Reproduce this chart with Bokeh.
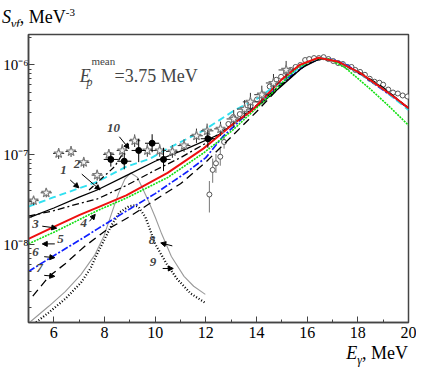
import numpy as np
from bokeh.plotting import figure
from bokeh.models import FixedTicker, Label, Arrow, NormalHead, Div
from bokeh.layouts import column
from bokeh.embed import file_html
from bokeh.resources import INLINE

# ---------------- data (log10 of S, MeV^-3) ----------------
c1_E = [5, 6, 7, 7.71, 8.86, 9.81, 10.49, 11.9, 13.15, 14.06, 14.8, 15.5, 16, 16.5, 17.2, 18, 19, 20]
c1_L = [-7.574, -7.47, -7.37, -7.30, -7.13, -7.04, -6.93, -6.73, -6.50, -6.37, -6.22, -6.07, -5.97, -5.92, -5.96, -6.08, -6.27, -6.50]
c2_E = [5, 6, 7, 7.71, 8.86, 10, 11.25, 12.54, 13.5, 14.3, 15, 15.8, 16.5, 17.2, 18, 19, 20]
c2_L = [-7.70, -7.59, -7.47, -7.39, -7.23, -7.07, -6.93, -6.77, -6.57, -6.40, -6.23, -6.03, -5.93, -5.96, -6.08, -6.26, -6.48]
c3_E = [5, 6, 7, 7.71, 8.86, 10, 11, 12, 13, 14, 15, 16, 16.5, 17.2, 18, 19, 20]
c3_L = [-7.68, -7.62, -7.54, -7.49, -7.34, -7.17, -7.03, -6.87, -6.67, -6.45, -6.21, -5.99, -5.93, -5.96, -6.08, -6.26, -6.48]
c4_E = [5, 6, 7, 7.71, 8.86, 10.49, 11.9, 13.15, 13.8, 15, 15.7, 16.45, 17.2, 18.1, 19, 19.5, 20]
c4_L = [-7.934, -7.80, -7.67, -7.585, -7.45, -7.20, -6.93, -6.64, -6.51, -6.16, -6.0, -5.92, -5.96, -6.09, -6.27, -6.37, -6.48]
c5_E = [5, 6, 7, 7.71, 8.86, 10.5, 11.9, 13.04, 14.3, 15.6, 16.35, 16.85, 17.5, 18.5, 19.2, 20]
c5_L = [-7.989, -7.86, -7.72, -7.62, -7.48, -7.25, -6.98, -6.73, -6.40, -6.03, -5.93, -5.93, -6.03, -6.27, -6.45, -6.67]
c6_E = [5, 6, 7, 7.71, 9, 10, 11.25, 12, 12.66, 13.72, 14.5, 15.3, 16, 16.5, 17, 17.5, 18, 18.5, 19, 19.5, 20]
c6_L = [-8.295, -8.12, -7.95, -7.825, -7.6, -7.43, -7.19, -7.03, -6.80, -6.52, -6.33, -6.13, -5.99, -5.93, -5.94, -5.99, -6.08, -6.18, -6.28, -6.38, -6.48]
c7_E = [5.17, 5.81, 6.45, 7.2, 8.1, 8.97, 10, 11, 12, 13, 14, 15, 16, 16.5, 17, 18, 19, 20]
c7_L = [-8.57, -8.35, -8.21, -8.02, -7.83, -7.69, -7.50, -7.32, -7.08, -6.80, -6.52, -6.22, -5.98, -5.93, -5.94, -6.07, -6.25, -6.48]
c8_E = [5.05, 5.81, 6.45, 7.07, 7.6, 7.98, 8.28, 8.55, 8.8, 9.04, 9.3, 9.5, 9.73, 10.0, 10.26, 10.64, 11.14, 11.52, 11.98]
c8_L = [-8.86, -8.68, -8.52, -8.33, -8.12, -7.90, -7.65, -7.43, -7.27, -7.20, -7.25, -7.37, -7.51, -7.69, -7.88, -8.13, -8.35, -8.46, -8.55]
c9_E = [5.3, 5.81, 6.45, 7.07, 7.45, 7.71, 7.98, 8.28, 8.59, 8.97, 9.2, 9.35, 9.61, 9.81, 10.0, 10.45, 10.87, 11.4, 11.98]
c9_L = [-8.86, -8.75, -8.60, -8.42, -8.26, -8.10, -7.95, -7.78, -7.64, -7.57, -7.56, -7.58, -7.69, -7.84, -7.99, -8.21, -8.38, -8.54, -8.645]
c10_E = [7.39, 8.4, 8.95]
c10_L = [-7.39, -7.13, -6.88]

star_E = [5.20, 5.70, 6.19, 6.68, 7.18, 7.71, 8.17, 8.70, 9.19, 9.69, 10.18, 10.68, 11.14, 11.63, 12.05, 12.58, 13.1, 13.53, 13.76, 14.21, 14.67, 15.17]
star_L = [-7.508, -7.421, -6.984, -6.962, -7.082, -7.224, -6.995, -6.951, -6.842, -6.951, -6.951, -6.962, -6.896, -6.787, -6.732, -6.71, -6.60, -6.49, -6.41, -6.33, -6.20, -6.055]
star_xerr = [0.2, 0.22, 0.22, 0.22, 0.22, 0.22, 0.22, 0.22, 0.22, 0.25, 0.25, 0.25, 0.25, 0.25, 0.25, 0.25, 0.28, 0.3, 0.3, 0.3, 0.3, 0.3]
star_yerr = [0.05, 0.05, 0.06, 0.06, 0.06, 0.06, 0.06, 0.07, 0.07, 0.07, 0.07, 0.07, 0.07, 0.08, 0.08, 0.08, 0.1, 0.1, 0.1, 0.1, 0.1, 0.1]

dot_E = [8.25, 8.78, 9.35, 9.88, 10.33, 12.08]
dot_L = [-7.05, -7.07, -6.95, -6.87, -7.05, -6.82]
dot_xerr = [0.28, 0.28, 0.28, 0.28, 0.28, 0.28]
dot_yerr = [0.08, 0.09, 0.13, 0.10, 0.13, 0.10]

oc_low_E = [12.14, 12.27, 12.4, 12.57, 12.72]
oc_low_L = [-7.44, -7.166, -7.093, -7.02, -6.856]
oc_low_lo = [-7.64, -7.31, -7.20, -7.12, -6.93]
oc_low_hi = [-7.29, -7.04, -6.99, -6.93, -6.79]
oc_E = [12.89, 13.08, 13.34, 13.53, 13.76, 14.02, 14.29, 14.52, 14.78, 14.97, 15.17, 15.35, 15.54, 15.73, 15.92,
        16.08, 16.27, 16.46, 16.65, 16.84, 17.03, 17.22, 17.41, 17.6, 17.75, 17.9, 18.09, 18.28, 18.47, 18.66,
        18.85, 19.0, 19.2, 19.39, 19.58, 19.77, 19.96]
oc_L = [-6.656, -6.579, -6.546, -6.514, -6.459, -6.383, -6.328, -6.240, -6.164, -6.131, -6.077, -6.055, -6.022, -6.0, -5.945,
        -5.934, -5.923, -5.923, -5.913, -5.934, -5.956, -5.978, -5.989, -6.022, -6.022, -6.055, -6.077, -6.109, -6.153, -6.186,
        -6.197, -6.219, -6.273, -6.306, -6.317, -6.339, -6.35]

x_major = [6, 8, 10, 12, 14, 16, 18, 20]
x_minor = [5, 7, 9, 11, 13, 15, 17, 19]
y_major = [1e-8, 1e-7, 1e-6]
y_tick_labels = ["10\u207b\u2078", "10\u207b\u2077", "10\u207b\u2076"]

curve_labels = ["1", "2", "10", "3", "4", "5", "6", "7", "8", "9"]

# ---------------- helpers ----------------
def S(a):
    return 10 ** np.asarray(a, dtype=float)

def ref(px, py):
    """convert a position on the original picture into data coordinates"""
    return 5 + (px - 28.7) / 26.3, 10 ** (-6 - (py - 65) / 91.5)

SERIF = "Liberation Serif"

p = figure(width=416, height=318, x_range=(5, 20), y_range=(10 ** -8.863, 10 ** -5.661),
           y_axis_type="log", output_backend="svg", toolbar_location=None,
           min_border_left=27, min_border_right=8, min_border_top=8, min_border_bottom=22)
p.title.visible = False
p.grid.visible = False
p.background_fill_color = "white"
p.border_fill_color = "white"
p.outline_line_color = "#444444"
p.outline_line_width = 1.5

p.xaxis.ticker = FixedTicker(ticks=x_major, minor_ticks=x_minor)
minor_y = [m * 10.0 ** e for e in (-9, -8, -7, -6) for m in range(2, 10)]
p.yaxis.ticker = FixedTicker(ticks=y_major, minor_ticks=minor_y)
for ax in (p.xaxis, p.yaxis):
    ax.axis_line_color = "#444444"
    ax.axis_line_width = 1.5
    ax.major_tick_line_color = "#444444"
    ax.minor_tick_line_color = "#444444"
    ax.major_tick_in = 6
    ax.major_tick_out = 0
    ax.minor_tick_in = 3
    ax.minor_tick_out = 0
    ax.major_label_text_font = SERIF
    ax.major_label_text_color = "black"
p.xaxis.major_label_text_font_size = "16px"
p.yaxis.major_label_text_font_size = "15px"
p.xaxis.major_label_standoff = 4
p.yaxis.major_label_standoff = 0
p.yaxis.major_label_overrides = {v: t for v, t in zip(y_major, y_tick_labels)}

# ---------------- data points ----------------
oc_x = np.array(oc_low_E)
p.segment(oc_x, S(oc_low_lo), oc_x, S(oc_low_hi), line_color="#777777", line_width=1)
p.scatter(oc_low_E, S(oc_low_L), marker="circle", size=5, line_color="#555555", fill_color="white", line_width=1)
p.scatter(oc_E, S(oc_L), marker="circle", size=5, line_color="#555555", fill_color="white", line_width=1)

# ---------------- curves ----------------
p.line(c8_E, S(c8_L), line_color="#9a9a9a", line_width=1.1)
p.line(c9_E, S(c9_L), line_color="black", line_width=2.2, line_dash="1 2")
p.line(c7_E, S(c7_L), line_color="black", line_width=1.3, line_dash="8 5")
p.line(c6_E, S(c6_L), line_color="#1020ff", line_width=1.7, line_dash="7 2 2 2")
p.line(c3_E, S(c3_L), line_color="black", line_width=1.3, line_dash="7 3 2 3")
p.line(c2_E, S(c2_L), line_color="black", line_width=1.3)
p.line(c1_E, S(c1_L), line_color="#30e0f0", line_width=1.9, line_dash="7 4")
p.line(c5_E, S(c5_L), line_color="#10e010", line_width=1.6, line_dash="2 1")
p.line(c4_E, S(c4_L), line_color="#ee1010", line_width=2)
p.line(c10_E, S(c10_L), line_color="black", line_width=1.3, line_dash="6 3 2 3")

# stars and filled circles with error bars
sx = np.array(star_E); sL = np.array(star_L)
p.segment(sx - np.array(star_xerr), S(sL), sx + np.array(star_xerr), S(sL), line_color="#333333", line_width=1)
p.segment(sx, S(sL - np.array(star_yerr)), sx, S(sL + np.array(star_yerr)), line_color="#333333", line_width=1)
p.scatter(star_E, S(star_L), marker="star", size=10, line_color="#7a7a7a", fill_color="#f6f6f6", line_width=1.1)

dx = np.array(dot_E); dL = np.array(dot_L)
p.segment(dx - np.array(dot_xerr), S(dL), dx + np.array(dot_xerr), S(dL), line_color="black", line_width=1)
p.segment(dx, S(dL - np.array(dot_yerr)), dx, S(dL + np.array(dot_yerr)), line_color="black", line_width=1)
p.scatter(dot_E, S(dot_L), marker="circle", size=6, line_color="black", fill_color="black")

# ---------------- curve number labels with arrows ----------------
label_pos = [(65, 172), (79, 166), (117, 129), (36, 227), (86, 226), (62, 242), (36, 255), (40, 272), (157, 243), (158, 265)]
arrow_pos = [((72, 182), (81, 190)), ((84, 176), (103, 192)), ((123, 138), (133, 150)), ((43, 229), (58, 231)),
             ((92, 224), (98, 217)), ((56, 247), (43, 247)), ((45, 260), (56, 261)), ((45, 279), (56, 280)),
             ((178, 249), (166, 246)), ((168, 272), (179, 272))]
for t, (lx, ly), (a0, a1) in zip(curve_labels, label_pos, arrow_pos):
    x, y = ref(lx, ly)
    p.add_layout(Label(x=x, y=y, text=t, text_align="center", text_baseline="middle", text_font=SERIF,
                       text_font_size="13px", text_font_style="bold italic"))
    xs, ys = ref(*a0)
    xe, ye = ref(*a1)
    p.add_layout(Arrow(x_start=xs, y_start=ys, x_end=xe, y_end=ye, line_color="black", line_width=1,
                       end=NormalHead(size=5, fill_color="black", line_color="black")))

# ---------------- annotation E_p^mean = 3.75 MeV ----------------
def txt(px, py, t, size, style="normal", align="left"):
    x, y = ref(px, py)
    p.add_layout(Label(x=x, y=y, text=t, text_align=align, text_baseline="alphabetic", text_font=SERIF,
                       text_font_size=size, text_font_style=style))

txt(82, 76, "E", "18px", "italic")
txt(89, 82, "p", "12px", "italic")
txt(94, 61, "mean", "11px")
txt(118, 76, "=3.75 MeV", "18px")

# ---------------- axis titles (HTML text with sub/superscripts) ----------------
ytitle = Div(text="<i>S</i><sub style='font-size:13px'><i>\u03b3f</i></sub>, MeV<sup style='font-size:11px'>-3</sup>",
             width=416, height=26, margin=0,
             styles={"font-family": SERIF, "font-size": "18px", "color": "black", "padding-left": "2px",
                     "padding-top": "2px", "line-height": "20px", "white-space": "nowrap"})
xtitle = Div(text="<i>E</i><sub style='font-size:12px'><i>\u03b3</i></sub>, MeV",
             width=416, height=21, margin=0,
             styles={"font-family": SERIF, "font-size": "18px", "color": "black", "text-align": "right",
                     "padding-right": "4px", "line-height": "18px", "white-space": "nowrap", "width": "412px"})

layout = column(ytitle, p, xtitle, spacing=0)
open("out.html", "w").write(file_html(layout, INLINE))
